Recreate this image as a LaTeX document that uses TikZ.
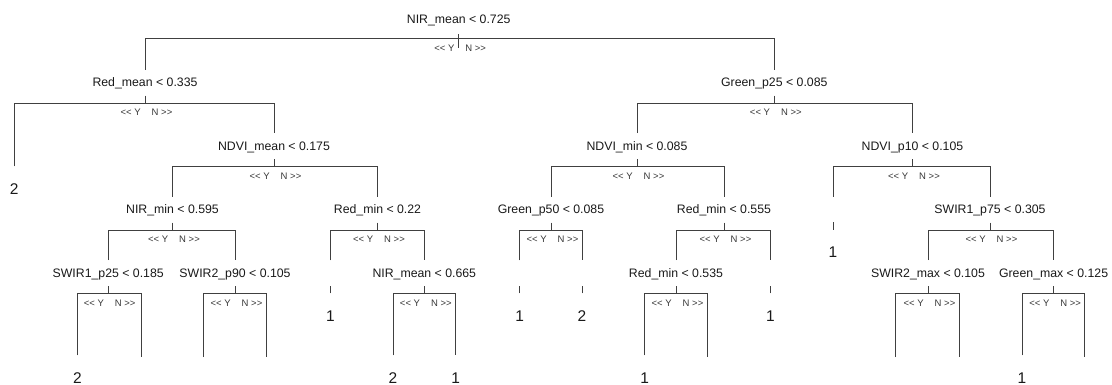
\documentclass[tikz,border=0pt]{standalone}
\usepackage{fontspec}
\setmainfont{Liberation Sans}

\begin{document}
\begin{tikzpicture}[x=1pt, y=-1pt,
  split/.style={inner sep=0pt, minimum height=25.7pt, text height=8.6pt, text depth=0.4pt,
    font=\fontsize{12.3}{14}\selectfont, text=black!90},
  leaf/.style={anchor=base, inner xsep=0pt, inner ysep=16.5pt, text height=11.1pt, text depth=0pt,
    font=\fontsize{15.5}{17}\selectfont, text=black!90},
  yn/.style={inner sep=0pt, font=\fontsize{9.5}{10}\selectfont, text=black!78},
  branch/.style={draw=black!75, line width=1pt}
]
  \useasboundingbox (0,0) rectangle (1112,385);

  \node[split] (nirmean) at (458.7,19.2) {NIR\_mean < 0.725};
  \node[split] (redmean) at (145,82.7) {Red\_mean < 0.335};
  \node[split] (greenp25) at (774.3,82.7) {Green\_p25 < 0.085};
  \node[split] (ndvimean) at (274,146.2) {NDVI\_mean < 0.175};
  \node[split] (ndvimin) at (637,146.2) {NDVI\_min < 0.085};
  \node[split] (ndvip10) at (912.5,146.2) {NDVI\_p10 < 0.105};
  \node[split] (nirmin) at (172.5,209.7) {NIR\_min < 0.595};
  \node[split] (redmin22) at (377.5,209.7) {Red\_min < 0.22};
  \node[split] (greenp50) at (551,209.7) {Green\_p50 < 0.085};
  \node[split] (redmin555) at (724,209.7) {Red\_min < 0.555};
  \node[split] (swir1p75) at (990,209.7) {SWIR1\_p75 < 0.305};
  \node[split] (swir1p25) at (108.2,273.2) {SWIR1\_p25 < 0.185};
  \node[split] (swir2p90) at (235,273.2) {SWIR2\_p90 < 0.105};
  \node[split] (nirmean665) at (424.3,273.2) {NIR\_mean < 0.665};
  \node[split] (redmin535) at (676,273.2) {Red\_min < 0.535};
  \node[split] (swir2max) at (928,273.2) {SWIR2\_max < 0.105};
  \node[split] (greenmax) at (1053.6,273.2) {Green\_max < 0.125};

  \node[leaf] (l1) at (14.3,194.2) {2};
  \node[leaf] (l5) at (77.5,383.2) {2};
  \coordinate (l6) at (141.4,357.1);
  \coordinate (l7) at (203.6,357.1);
  \coordinate (l8) at (266.4,357.1);
  \node[leaf] (l9) at (393,383.2) {2};
  \node[leaf] (l10) at (455.7,383.2) {1};
  \node[leaf] (l11) at (644.6,383.2) {1};
  \coordinate (l12) at (707.9,357.1);
  \coordinate (l13) at (895,357.1);
  \coordinate (l14) at (959.6,357.1);
  \node[leaf] (l15) at (1022,383.2) {1};
  \coordinate (l16) at (1084.6,357.1);

  \node[leaf] (t1) at (330.4,321.2) {1};
  \node[leaf] (t2) at (519.6,321.2) {1};
  \node[leaf] (t3) at (582,321.2) {2};
  \node[leaf] (t4) at (770.4,321.2) {1};
  \node[leaf] (t5) at (833,257.7) {1};
  \coordinate (u1) at (330.4,260.35);
  \coordinate (u2) at (519.6,260.35);
  \coordinate (u3) at (582,260.35);
  \coordinate (u4) at (770.4,260.35);
  \coordinate (u5) at (833,196.85);

  \draw[branch] (nirmean.south) ++(0,2.2) -- ++(0,14);
  \draw[branch] (redmean.north) |- ([yshift=-6.25pt]nirmean.south) -| (greenp25.north);
  \node[yn] at ([xshift=1.5pt, yshift=-16.25pt]nirmean.south) {{<}{<} Y\hspace{11pt}N {>}{>}};

  \foreach \p/\l/\r in {redmean/l1.north/ndvimean.north, greenp25/ndvimin.north/ndvip10.north,
      ndvimean/nirmin.north/redmin22.north, ndvimin/greenp50.north/redmin555.north,
      ndvip10/u5/swir1p75.north, nirmin/swir1p25.north/swir2p90.north,
      redmin22/u1/nirmean665.north, greenp50/u2/u3, redmin555/redmin535.north/u4,
      swir1p75/swir2max.north/greenmax.north, swir1p25/l5.north/l6, swir2p90/l7/l8,
      nirmean665/l9.north/l10.north, redmin535/l11.north/l12, swir2max/l13/l14,
      greenmax/l15.north/l16} {
    \draw[branch] (\p.south) -- ++(0,7.6) coordinate (\p-j);
    \draw[branch] (\l) |- (\p-j) -| (\r);
    \node[yn] at ([xshift=1.5pt, yshift=-9pt]\p-j) {{<}{<} Y\hspace{11pt}N {>}{>}};
  }

  \foreach \t in {t1,t2,t3,t4,t5}
    \draw[branch] (\t.north) -- ++(0,-7.6);
\end{tikzpicture}
\end{document}
